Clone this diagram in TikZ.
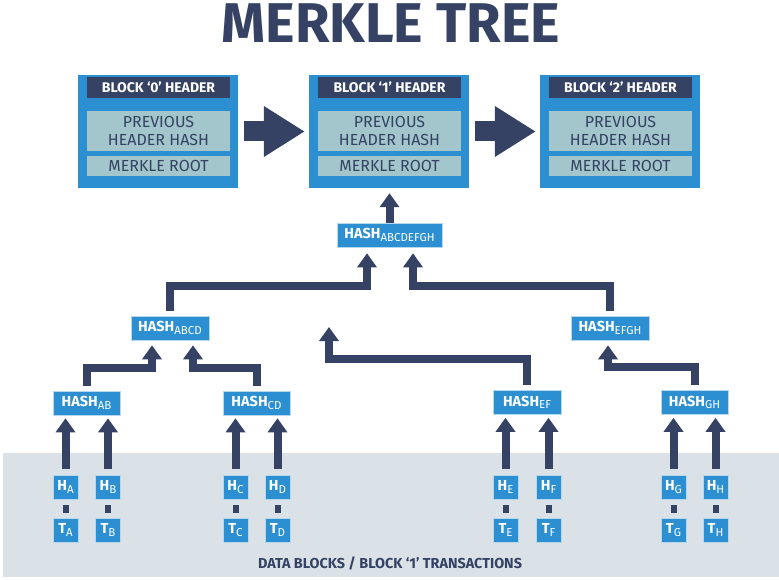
\documentclass[tikz,border=0pt]{standalone}
\usepackage{fontspec}
\setmainfont{Fira Sans}
\usetikzlibrary{arrows.meta}
\definecolor{mblue}{HTML}{2B8FD1}
\definecolor{navy}{HTML}{354264}
\definecolor{pale}{HTML}{A3C6CC}
\definecolor{band}{HTML}{DAE1E7}
\newcommand{\hs}[1]{\raisebox{-0.35ex}{\fontsize{11.5}{11.5}\mdseries\selectfont #1}}

\begin{document}
\begin{tikzpicture}[x=1pt, y=-1pt,
    box/.style={fill=mblue, draw=white!65!mblue, line width=0.6pt, text=white, inner sep=0pt,
      font=\fontsize{14.5}{15}\bfseries\selectfont},
    hashbox/.style={box, minimum height=24pt},
    leaf/.style={box, minimum width=25pt, minimum height=24pt},
    blockbox/.style={fill=mblue, inner sep=0pt, minimum width=160pt, minimum height=113pt},
    headbar/.style={fill=navy, text=white, inner sep=0pt, minimum width=143pt, minimum height=21pt,
      font=\fontsize{14}{14}\bfseries\selectfont},
    field/.style={fill=pale, text=navy, inner sep=0pt, minimum width=143pt, align=center,
      font=\fontsize{16}{18}\selectfont},
    up/.style={draw=navy, line width=8pt, line join=miter, -{Triangle[width=19pt,length=14pt]},
      shorten <=5pt, shorten >=5pt},
    bigarrow/.style={draw=navy, line width=20pt, -{Triangle[width=48pt,length=41pt]},
      shorten <=6pt, shorten >=4pt},
    link/.style={draw=navy, line width=6pt, shorten <=6pt, shorten >=5pt}
  ]
  \useasboundingbox (0,0) rectangle (779,580);
  % data band
  \fill[band] (3,453) rectangle (779,577);
  \node[text=navy, font=\fontsize{14.4}{14.4}\bfseries\selectfont] (bandlbl) at (390,563)
    {DATA BLOCKS / BLOCK `1' TRANSACTIONS};
  % title
  \node[text=navy, font=\fontsize{56}{56}\bfseries\selectfont] (title) at (391,23) {MERKLE TREE};
  % block headers
  \foreach \i/\x in {0/158,1/389,2/620} {
    \node[blockbox] (blk\i) at (\x,131.5) {};
    \node[headbar] (hd\i) at (\x+0.5,87.5) {BLOCK `\i' HEADER};
    \node[field, minimum height=40pt] (prev\i) at (\x+0.5,131) {PREVIOUS\\HEADER HASH};
    \node[field, minimum height=20pt] (root\i) at (\x+0.5,166) {MERKLE ROOT};
  }
  \draw[bigarrow] (blk0) -- (blk1);
  \draw[bigarrow] (blk1) -- (blk2);
  % hash nodes
  \node[hashbox, minimum width=105pt] (hAH) at (389.5,235) {HASH\hs{ABCDEFGH}};
  \node[hashbox, minimum width=78pt] (hABCD) at (170,328) {HASH\hs{ABCD}};
  \node[hashbox, minimum width=78pt] (hEFGH) at (610,328) {HASH\hs{EFGH}};
  \node[hashbox, minimum width=67pt] (hAB) at (86.5,403) {HASH\hs{AB}};
  \node[hashbox, minimum width=67pt] (hCD) at (256.5,403) {HASH\hs{CD}};
  \node[hashbox, minimum width=68pt] (hEF) at (527,402.5) {HASH\hs{EF}};
  \node[hashbox, minimum width=67pt] (hGH) at (694.5,402.5) {HASH\hs{GH}};
  \coordinate (loose) at (329,327);
  % leaves
  \foreach \l/\x/\p in {A/65.5/AB,B/108/AB,C/235.5/CD,D/277.5/CD,E/505.5/EF,F/548.5/EF,G/673.5/GH,H/715.5/GH} {
    \node[leaf] (h\l) at (\x,487) {H\hs{\l}};
    \node[leaf] (t\l) at (\x,530) {T\hs{\l}};
    \draw[link] (h\l) -- (t\l);
    \draw[up, shorten <=6pt, shorten >=3pt] (h\l.north) -- (h\l.north |- h\p.south);
  }
  % tree links
  \draw[up] (hAB.north) -- ++(0,-23) -| ([xshift=-18pt]hABCD.south);
  \draw[up] (hCD.north) -- ++(0,-23) -| ([xshift=23pt]hABCD.south);
  \draw[up] (hGH.north) -- ++(0,-23) -| ([xshift=-2pt]hEFGH.south);
  \draw[up, shorten >=0pt] (hEF.north) -- ++(0,-31) -| (loose);
  \draw[up, shorten >=6pt] (hABCD.north) -- ++(0,-30) -| ([xshift=-22.5pt]hAH.south);
  \draw[up, shorten >=6pt] (hEFGH.north) -- ++(0,-30) -| ([xshift=23.5pt]hAH.south);
  \draw[up, shorten <=0pt] (hAH.north) -- (hAH.north |- blk1.south);
\end{tikzpicture}
\end{document}
